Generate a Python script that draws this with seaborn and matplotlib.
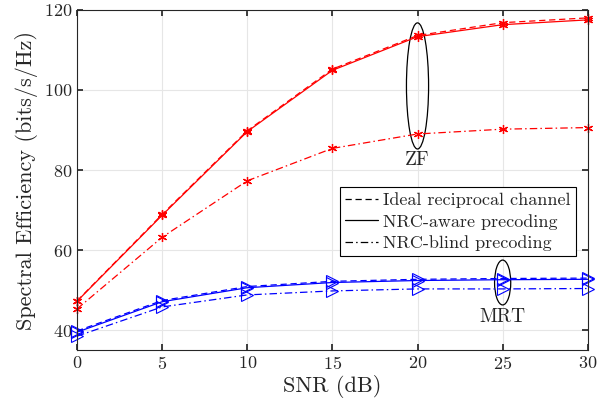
import matplotlib
matplotlib.use('Agg')
import matplotlib.pyplot as plt
from matplotlib.lines import Line2D
from matplotlib.patches import Ellipse
import seaborn as sns
import pandas as pd

snr = [0, 5, 10, 15, 20, 25, 30]

zf_ideal = [47.3, 68.9, 89.8, 105.2, 113.6, 116.8, 118.0]
zf_aware = [47.2, 68.7, 89.6, 104.9, 113.3, 116.3, 117.5]
zf_blind = [45.3, 63.2, 77.3, 85.4, 89.0, 90.2, 90.6]

mrt_ideal = [39.8, 47.4, 50.9, 52.2, 52.7, 52.9, 53.0]
mrt_aware = [39.5, 47.1, 50.6, 51.9, 52.4, 52.6, 52.7]
mrt_blind = [38.5, 45.8, 48.8, 49.8, 50.3, 50.3, 50.4]

legend_labels = ['Ideal reciprocal channel', 'NRC-aware precoding', 'NRC-blind precoding']

sns.set_theme(style='ticks')
plt.rcParams['font.family'] = ['cmr10', 'DejaVu Serif']
plt.rcParams['mathtext.fontset'] = 'cm'
plt.rcParams['axes.formatter.use_mathtext'] = True

fig = plt.figure(figsize=(6.11, 4.11), dpi=100)
ax = fig.add_axes([0.126, 0.148, 0.836, 0.828])

dashed = (0, (5, 3))
dashdot = (0, (6, 2.5, 1.2, 2.5))
asterisk = (6, 2, 0)
series = [
    (zf_ideal, 'red', dashed, asterisk),
    (zf_aware, 'red', '-', asterisk),
    (zf_blind, 'red', dashdot, asterisk),
    (mrt_ideal, 'blue', dashed, '>'),
    (mrt_aware, 'blue', '-', '>'),
    (mrt_blind, 'blue', dashdot, '>'),
]
for vals, col, ls, mk in series:
    df = pd.DataFrame({'snr': snr, 'se': vals})
    if mk == '>':
        sns.lineplot(data=df, x='snr', y='se', ax=ax, color=col, linestyle=ls, linewidth=0.9,
                     marker=mk, markersize=9, markerfacecolor='none', markeredgecolor=col,
                     markeredgewidth=0.8, clip_on=False)
    else:
        sns.lineplot(data=df, x='snr', y='se', ax=ax, color=col, linestyle=ls, linewidth=0.9,
                     marker=mk, markersize=6.5, markeredgecolor=col, markeredgewidth=0.9,
                     clip_on=False)

# ellipses marking the groups
ax.add_patch(Ellipse((20, 101), 1.3, 31.5, fill=False, edgecolor='black', linewidth=0.9))
ax.text(20, 84.8, 'ZF', ha='center', va='top', fontsize=14)
ax.add_patch(Ellipse((25, 51.9), 0.95, 11.2, fill=False, edgecolor='black', linewidth=0.9))
ax.text(25, 45.6, 'MRT', ha='center', va='top', fontsize=14)

ax.set_xlim(0, 30)
ax.set_ylim(35, 120)
ax.set_xticks([0, 5, 10, 15, 20, 25, 30])
ax.set_yticks([40, 60, 80, 100, 120])
ax.grid(True, color='#e6e6e6', linewidth=0.8)
ax.tick_params(direction='in', length=4, labelsize=13, top=True, right=True, colors='#262626')
for sp in ax.spines.values():
    sp.set_color('#262626')
    sp.set_linewidth(0.8)
ax.set_xlabel('SNR (dB)', fontsize=16, labelpad=2)
ax.set_ylabel('Spectral Efficiency (bits/s/Hz)', fontsize=16, labelpad=4)

handles = [Line2D([], [], color='black', linestyle=ls, linewidth=0.9) for ls in [dashed, '-', dashdot]]
leg = ax.legend(handles, legend_labels, loc='upper right', bbox_to_anchor=(0.977, 0.479),
                borderaxespad=0, fontsize=13, frameon=True, fancybox=False, framealpha=1,
                edgecolor='black', handlelength=1.8, borderpad=0.3, labelspacing=0.3,
                handletextpad=0.3)
leg.get_frame().set_linewidth(0.8)

fig.savefig('out.png', dpi=100)
